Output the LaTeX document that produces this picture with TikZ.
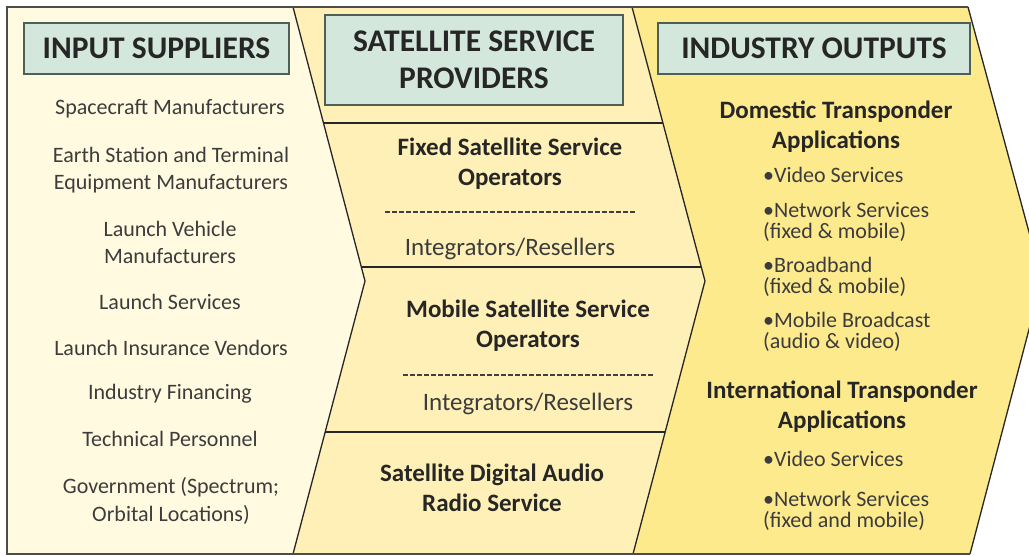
\documentclass[tikz,border=0pt]{standalone}
\usepackage{fontspec}
\setmainfont{Carlito}
\usepackage{tikz}
\usetikzlibrary{positioning,calc}
\definecolor{leftfill}{HTML}{FFFAE0}
\definecolor{midfill}{HTML}{FEF0B6}
\definecolor{rightfill}{HTML}{FDEA8D}
\definecolor{boxfill}{HTML}{D4E7DC}
\definecolor{boxline}{HTML}{4E5F56}
\definecolor{bodytext}{HTML}{3C3C3C}
\definecolor{headtext}{HTML}{262626}
\tikzset{
	headbox/.style={draw=boxline,fill=boxfill,line width=1.6pt,text=headtext,
		font=\fontsize{31.5}{37}\selectfont\bfseries,align=center,inner sep=0pt},
	item/.style={text=bodytext,font=\fontsize{22}{27.5}\selectfont,align=center,inner sep=0pt},
	reseller/.style={item,font=\fontsize{25}{30}\selectfont},
	subhead/.style={text=headtext,font=\fontsize{25}{30}\selectfont\bfseries,align=center,inner sep=0pt},
	bullet/.style={text=bodytext,font=\fontsize{22}{20.5}\selectfont,align=left,anchor=west,inner sep=0pt},
	panel/.style={draw=black!85,line width=1.3pt,line join=miter}
}
\begin{document}
\begin{tikzpicture}[x=1pt,y=-1pt]
	\useasboundingbox (0,0) rectangle (1029,556);
	\clip (0,0) rectangle (1029,556);
	\fill[white] (0,0) rectangle (1029,556);
	
	% the three chevron panels
	\fill[rightfill] (632,7) -- (968,7) -- (1042,280) -- (970,554) -- (633,554) -- (705,281) -- cycle;
	\fill[midfill] (293,7) -- (632,7) -- (705,281) -- (633,554) -- (293,554) -- (365,281) -- cycle;
	\fill[leftfill] (7,7) -- (293,7) -- (365,281) -- (293,554) -- (7,554) -- cycle;
	
	% rows of the middle panel
	\begin{scope}
		\clip (293,7) -- (632,7) -- (705,281) -- (633,554) -- (293,554) -- (365,281) -- cycle;
		\draw[panel] (300,123) -- (700,123);
		\draw[panel] (300,267) -- (720,267);
		\draw[panel] (300,432) -- (700,432);
	\end{scope}
	\draw[black!75,line width=1.2pt,dash pattern=on 5pt off 2pt] (385,212) -- (635,212);
	\draw[black!75,line width=1.2pt,dash pattern=on 5pt off 2pt] (403,375) -- (653,375);
	
	\draw[panel] (632,7) -- (705,281) -- (633,554);
	\draw[panel] (293,7) -- (365,281) -- (293,554);
	\draw[panel] (968,7) -- (1042,280) -- (970,554);
	\draw[draw=black!70,line width=1.5pt] (968,7) -- (7,7) -- (7,554) -- (970,554);
	
	% input suppliers
	\node[headbox,minimum width=265pt,minimum height=51pt] (inhead) at (156.5,48.5) {INPUT SUPPLIERS};
	\node[item] (craft) at (170,109) {Spacecraft Manufacturers};
	\node[item] (earth) at (171,170) {Earth Station and Terminal\\Equipment Manufacturers};
	\node[item] (vehicle) at (170,242.5) {Launch Vehicle\\Manufacturers};
	\node[item] (launch) at (170,302) {Launch Services};
	\node[item] (insure) at (171,348) {Launch Insurance Vendors};
	\node[item] (finance) at (170,394) {Industry Financing};
	\node[item] (staff) at (170,439) {Technical Personnel};
	\node[item] (govt) at (171,501) {Government (Spectrum;\\Orbital Locations)};
	
	% service providers
	\node[headbox,minimum width=298pt,minimum height=90pt] (midhead) at (474,60) {SATELLITE SERVICE\\PROVIDERS};
	\node[subhead] (fixed) at (510,164) {Fixed Satellite Service\\Operators};
	\node[reseller] (resell1) at (510,249) {Integrators/Resellers};
	\node[subhead] (mobile) at (528,326) {Mobile Satellite Service\\Operators};
	\node[reseller] (resell2) at (528,404) {Integrators/Resellers};
	\node[subhead] (radio) at (492,488) {Satellite Digital Audio\\Radio Service};
	
	% industry outputs
	\node[headbox,minimum width=312pt,minimum height=51pt] (outhead) at (814,48.5) {INDUSTRY OUTPUTS};
	\node[subhead] (domestic) at (836,127) {Domestic Transponder\\Applications};
	\node[bullet] (dvideo) at (763,175) {\textbullet Video Services};
	\node[bullet] (dnet) at (763,222) {\textbullet Network Services\\(fixed \& mobile)};
	\node[bullet] (dband) at (763,277) {\textbullet Broadband\\(fixed \& mobile)};
	\node[bullet] (dcast) at (763,332) {\textbullet Mobile Broadcast\\(audio \& video)};
	\node[subhead] (intl) at (842,407) {International Transponder\\Applications};
	\node[bullet] (ivideo) at (763,459) {\textbullet Video Services};
	\node[bullet] (inet) at (763,511) {\textbullet Network Services\\(fixed and mobile)};
	
\end{tikzpicture}
\end{document}
